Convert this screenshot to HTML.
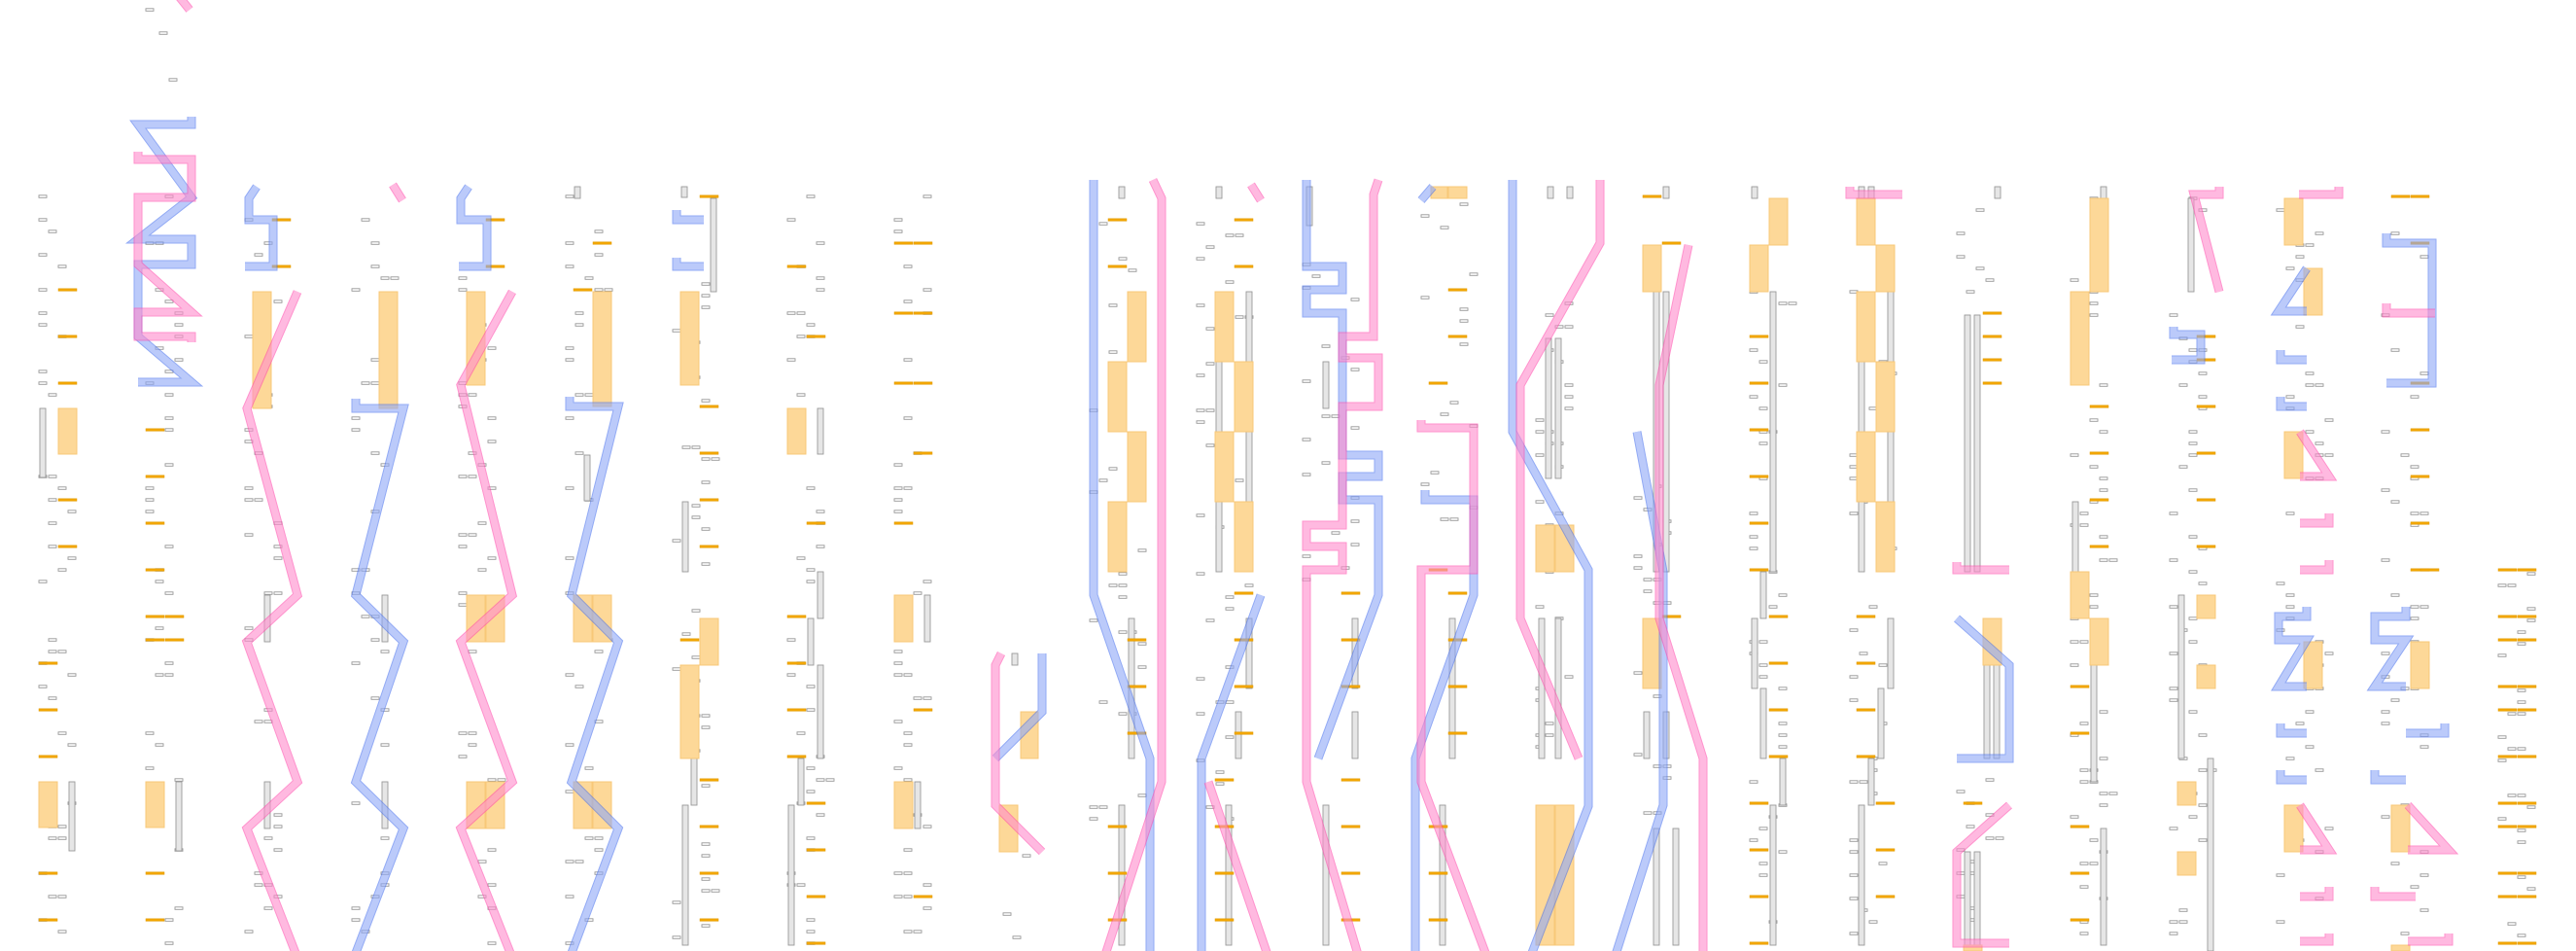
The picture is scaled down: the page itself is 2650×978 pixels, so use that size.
<!DOCTYPE html>
<html><head><meta charset="utf-8"><style>html,body{margin:0;padding:0;background:#fff}svg{display:block}</style></head>
<body>
<svg id="s" width="2650" height="978" viewBox="0 0 2650 978" xmlns="http://www.w3.org/2000/svg">
<g id="marks"></g>
<g id="bars" fill="#e6e6e6" stroke="#999" stroke-width="0.9"></g>
<g id="rects" fill="#fdd898" stroke="#f8c878" stroke-width="1"></g>
<g id="dashes" fill="#f2a600" stroke="#e09a00" stroke-width="0.5"></g>
<g id="blue" fill="none" stroke-linejoin="miter" opacity="0.6"></g>
<g id="pink" fill="none" stroke-linejoin="miter" opacity="0.6"></g>
</svg>
<script>
var NS="http://www.w3.org/2000/svg";
function el(g,t,a){var e=document.createElementNS(NS,t);for(var k in a)e.setAttribute(k,a[k]);document.getElementById(g).appendChild(e);return e;}
var R=[[60,79,420,467],[40,59,804,851],[150,169,804,851],[260,279,300,420],[390,409,300,420],[480,499,300,396],[480,499,612,660],[500,519,612,660],[480,499,804,852],[500,519,804,852],
[610,629,300,418],[590,609,612,660],[610,629,612,660],[590,609,804,852],[610,629,804,852],[700,719,300,396],[720,739,636,684],[700,719,684,780],[810,829,420,467],[920,939,612,660],[920,939,804,852],[1050,1068,732,780],[1028,1047,828,876],
[1160,1179,300,372],[1160,1179,444,516],[1140,1159,372,444],[1140,1159,516,588],[1250,1269,300,372],[1250,1269,444,516],[1270,1289,372,444],[1270,1289,516,588],[1472,1489,192,204],[1490,1509,192,204],
[1580,1599,540,588],[1600,1619,540,588],[1580,1599,828,972],[1600,1619,828,972],[1690,1709,252,300],[1690,1709,636,708],[1820,1839,204,252],[1800,1819,252,300],
[1910,1929,204,252],[1930,1949,252,300],[1910,1929,300,372],[1910,1929,444,516],[1930,1949,372,444],[1930,1949,516,588],[2040,2059,636,684],[2020,2039,972,978],
[2150,2169,204,300],[2130,2149,300,396],[2130,2149,588,636],[2150,2169,636,684],[2260,2279,612,636],[2260,2279,684,708],[2240,2259,804,828],[2240,2259,876,900],
[2350,2369,204,252],[2370,2389,276,324],[2350,2369,444,492],[2370,2389,660,708],[2350,2369,828,876],[2480,2499,660,708],[2460,2479,828,876],[2460,2479,972,978]];
R.forEach(function(r){el("rects","rect",{x:r[0],y:r[2],width:r[1]-r[0],height:r[3]-r[2]});});
var B=[[41,420,491],[71,804,875],[181,804,875],[272,612,660],[272,804,852],[393,612,660],[393,804,852],[591,192,204],[601,468,515],[701,192,203],[731,204,300],[702,516,588],[711,780,828],[702,828,972],
[841,420,467],[841,588,636],[831,636,684],[841,684,780],[821,780,828],[811,828,972],[951,612,660],[941,804,852],[1041,672,684],
[1151,192,204],[1161,636,780],[1151,828,972],[1251,192,204],[1251,372,444],[1251,516,588],[1282,300,372],[1282,444,516],[1282,636,708],[1271,732,780],[1261,828,972],
[1344,192,232],[1391,636,708],[1391,732,780],[1361,828,972],[1361,372,420],[1491,636,780],[1481,828,972],[1583,636,780],[1590,348,492],[1600,348,492],[1600,636,780],[1592,192,204],[1612,192,204],
[1701,300,588],[1711,300,588],[1711,192,204],[1691,732,780],[1711,732,780],[1701,852,972],[1721,852,972],
[1802,192,204],[1831,204,252],[1802,252,300],[1821,300,588],[1811,588,636],[1802,636,708],[1811,708,780],[1831,780,828],[1821,828,972],
[1912,192,204],[1922,192,204],[1942,300,372],[1912,372,444],[1942,444,516],[1912,516,588],[1942,636,708],[1932,708,780],[1922,780,828],[1912,828,972],
[2021,324,588],[2031,324,588],[2041,684,780],[2051,684,780],[2021,876,972],[2031,876,972],[2052,192,204],
[2161,192,204],[2132,516,588],[2151,684,804],[2161,852,972],[2251,204,300],[2241,612,780],[2271,780,978]];
B.forEach(function(b){el("bars","rect",{x:b[0],y:b[1],width:6,height:b[2]-b[1]});});
var D=[[60,298,346,394,514,562],[40,682,730,778,898,946],[150,442,490,538,586,634,658,898,946],[170,634,658],[280,226,274],[500,226,274],
[610,250],[590,298],[720,202,418,466,514,562,802,850,898,946],[700,658],[810,274,634,682,730,778],[830,346,538,826,874,922,970],
[920,250,322,394,538],[940,250,322,394,466,730,922],[1140,226,274,850,898,946],[1160,658,706,754],[1270,226,274,610,658,706,754],[1250,802,850,898,946],
[1380,610,658,706,802,850,898,946],[1490,298,346,610,658,706,754],[1470,394,586,850,898,946],[1690,202],[1710,250,634],
[1800,346,394,442,490,538,586,826,874,922,970],[1820,634,682,730,778],[1910,634,682,730,778],[1930,826,874,922],[2040,322,346,370,394],[2020,826],
[2150,418,466,514,562],[2130,706,754,850,898,946],[2260,346,370,418,466,514,562],[2460,202],[2480,202,250,394,442,490,538,586],[2490,586],
[2570,586,634,658,706,730,778,826,850,898,922,970],[2590,586,634,658,706,730,778,826,850,898,922,970]];
D.forEach(function(d){for(var i=1;i<d.length;i++)el("dashes","rect",{x:d[0],y:d[i]-1.2,width:19,height:2.5});});
function P(g,d){var c=g=="blue"?["#4a72ee","#8ea8f8"]:["#ff4aac","#ff8ccc"];el(g,"path",{d:d,stroke:c[0],"stroke-width":9});el(g,"path",{d:d,stroke:c[1],"stroke-width":7});}
var BL=["M197,120 V128 H142 L197,203 L142,246 H197 V272 H142 V346 L197,393 H142",
"M264,192 L256,204 V226 H281 V274 H252","M482,192 L474,204 V226 H501 V274 H472",
"M366,410 V420 H415 L366,612 L415,660 L366,804 L415,852 L366,980","M586,408 V418 H636 L588,612 L636,660 L588,804 L636,852 L588,980",
"M696,216 V226 H724","M696,265 V274 H724","M1024,780 L1072,732 V672",
"M1125,185 V612 L1183,780 V985","M1297,612 L1236,780 V985",
"M1344,185 V274 H1381 V298 H1344 V322 H1381 V468 H1418 V490 H1381 V514 H1418 V612 L1356,780",
"M1474,192 L1462,206","M1466,504 V514 H1516 V612 L1456,780 V985",
"M1556,185 V444 L1634,586 V829 L1574,985","M1684,444 L1711,588 V828 L1661,985",
"M2013,636 L2067,684 V780 H2013",
"M2236,336 V344 H2264 V370 H2234","M2373,276 L2344,320 H2373","M2346,360 V370 H2373","M2346,408 V418 H2373",
"M2373,624 V634 H2344 V658 H2373 L2344,706 H2373","M2346,744 V754 H2373","M2346,792 V802 H2373",
"M2455,240 V250 H2502 V394 H2455","M2475,624 V634 H2443 V658 H2475 L2443,706 H2475","M2515,744 V754 H2475","M2443,792 V802 H2475"];
BL.forEach(function(d){P("blue",d);});
var PK=["M183,-5 L195,10","M142,156 V164 H197 V203 H142 V272 L197,321 H142 V346 H197 V352",
"M306,300 L254,420 L306,612 L254,660 L306,804 L254,852 L306,985","M404,190 L414,206",
"M527,300 L474,396 L527,612 L474,660 L527,804 L474,852 L527,985",
"M1030,672 L1024,684 V828 L1072,876",
"M1186,185 L1195,204 V804 L1136,985","M1287,190 L1297,206","M1243,804 L1305,985",
"M1418,185 L1413,200 V346 H1381 V368 H1418 V418 H1381 V540 H1344 V562 H1381 V586 H1344 V804 L1398,985",
"M1462,432 V440 H1516 V586 H1462 V804 L1530,985",
"M1646,185 V250 L1564,396 V636 L1624,780",
"M1737,252 L1707,396 V636 L1752,780 V985",
"M1903,192 V200 H1957","M2013,578 V586 H2067","M2067,828 L2013,876 V970 H2067",
"M2283,192 V200 H2257 L2283,300","M2406,192 V200 H2365","M2366,444 L2396,490 H2366","M2396,528 V538 H2366","M2396,576 V586 H2366",
"M2366,828 L2396,874 H2366","M2396,912 V922 H2366","M2396,960 V968 H2366",
"M2455,312 V322 H2505","M2477,828 L2519,874 H2477","M2443,912 V922 H2485","M2519,960 V968 H2477"];
PK.forEach(function(d){P("pink",d);});
var seed=7;function rnd(){seed=(seed*9301+49297)%233280;return seed/233280;}
var C=[[40,4,202,970],[150,4,202,970],[252,4,202,970],[362,4,202,970],[472,4,202,970],[582,4,202,970],[692,4,280,970],[810,4,202,970],[920,4,202,970],[1022,4,880,970],
[1121,6,230,850],[1231,6,230,850],[1340,6,260,600],[1462,6,210,560],[1580,4,300,800],[1681,4,500,840],[1800,4,300,970],[1903,4,300,970],[2013,4,204,300],[2013,4,790,970],
[2130,4,204,970],[2232,4,204,970],[2342,6,204,970],[2440,6,204,970],[2570,4,590,970]];
C.forEach(function(c){for(var y=c[2];y<=c[3];y+=12){if(rnd()<0.4)continue;var n=rnd()<0.12?2:1;var s=Math.floor(rnd()*c[1]);for(var k=0;k<n;k++){el("marks","rect",{x:c[0]+(s+k)*10,y:y-1.2,width:8,height:2.5,fill:"#fff",stroke:"#999","stroke-width":0.9});}}});
[[150,10],[164,34],[174,82]].forEach(function(m){el("marks","rect",{x:m[0],y:m[1]-1.2,width:8,height:2.5,fill:"#fff",stroke:"#999","stroke-width":0.9});});
</script>
</body></html>
